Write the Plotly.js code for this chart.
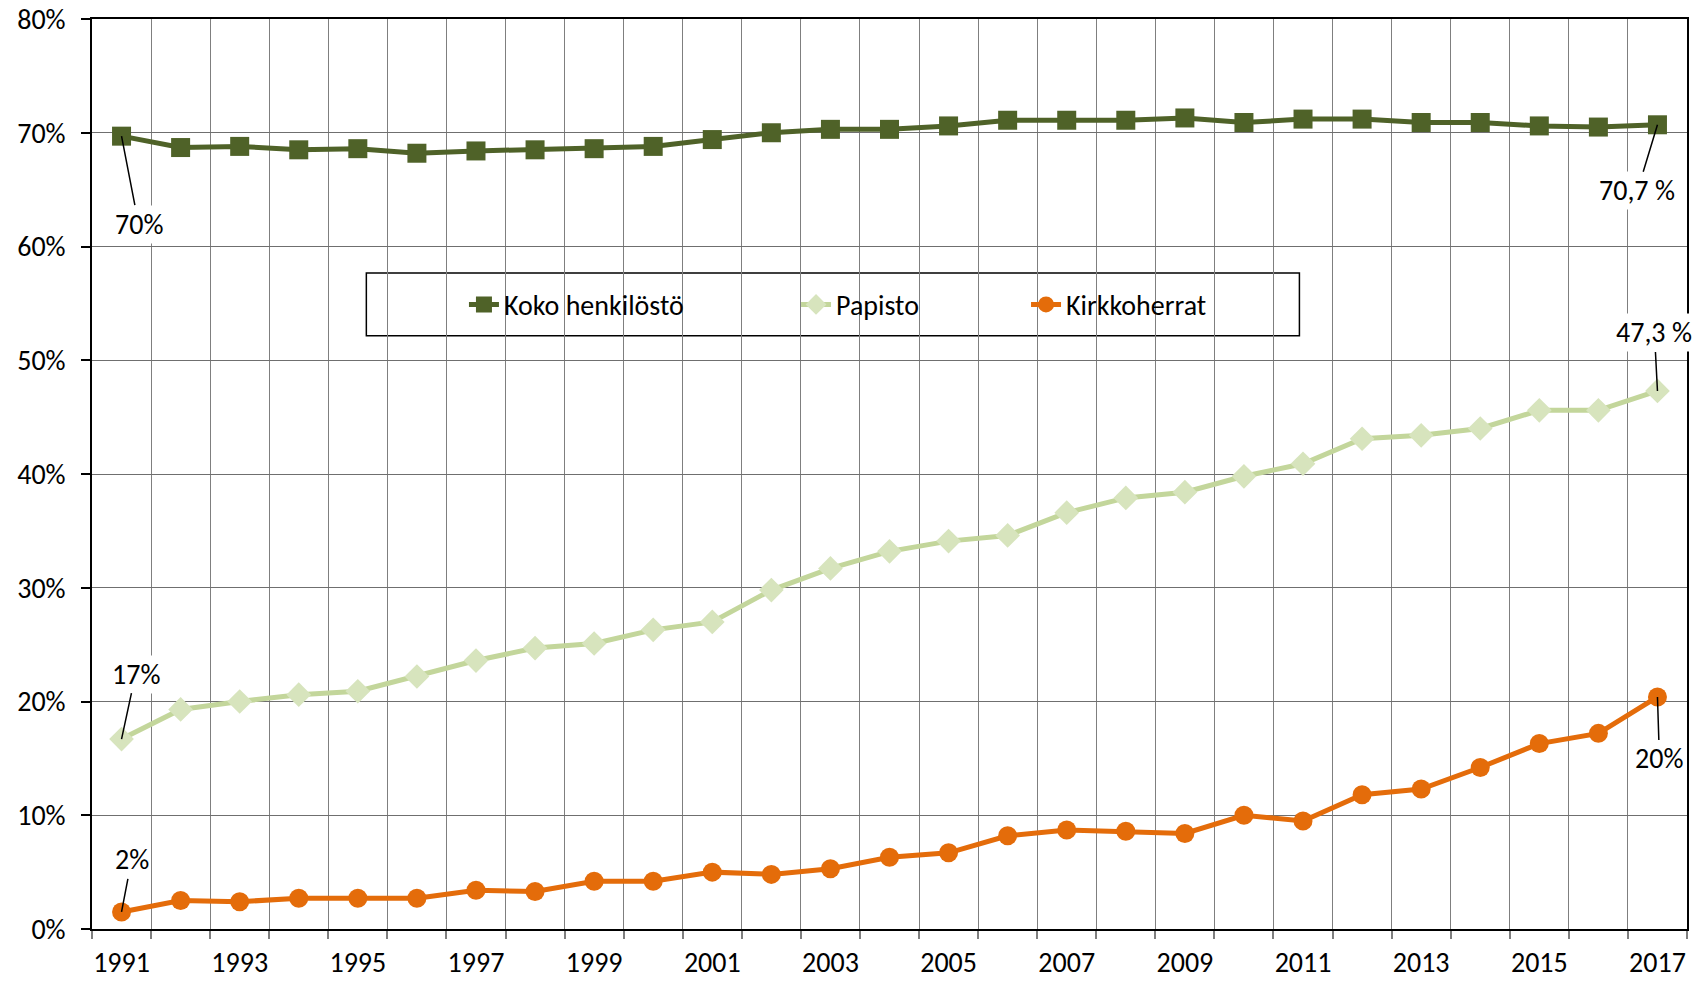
<!DOCTYPE html>
<html>
<head>
<meta charset="utf-8">
<script src="https://cdn.plot.ly/plotly-3.0.1.min.js"></script>
<style>
  html, body { margin: 0; padding: 0; background: #fff; }
  #chart { width: 1704px; height: 981px; }
</style>
</head>
<body>
<div id="chart"></div>
<script>
// --- Data ---
const years = [1991, 1992, 1993, 1994, 1995, 1996, 1997, 1998, 1999, 2000, 2001, 2002, 2003, 2004,
               2005, 2006, 2007, 2008, 2009, 2010, 2011, 2012, 2013, 2014, 2015, 2016, 2017];
const koko = [69.7, 68.7, 68.8, 68.5, 68.6, 68.2, 68.4, 68.5, 68.6, 68.8, 69.4, 70.0, 70.3, 70.3,
              70.6, 71.1, 71.1, 71.1, 71.3, 70.9, 71.2, 71.2, 70.9, 70.9, 70.6, 70.5, 70.7];
const papisto = [16.7, 19.3, 20.0, 20.6, 20.9, 22.2, 23.6, 24.7, 25.1, 26.3, 27.0, 29.8, 31.7, 33.2,
                 34.1, 34.6, 36.6, 37.9, 38.4, 39.8, 40.9, 43.1, 43.4, 44.0, 45.6, 45.6, 47.3];
const kirkkoherrat = [1.5, 2.5, 2.4, 2.7, 2.7, 2.7, 3.4, 3.3, 4.2, 4.2, 5.0, 4.8, 5.3, 6.3,
                      6.7, 8.2, 8.7, 8.6, 8.4, 10.0, 9.5, 11.8, 12.3, 14.2, 16.3, 17.2, 20.4];
const seriesNames = ['Koko henkilöstö', 'Papisto', 'Kirkkoherrat'];
const labelYears = years.filter(y => y % 2 === 1);

// end-point labels: [series, index, text, ax, ay]
const pointLabels = [
    [koko, 0, '70%', 17, 88],
    [koko, 26, '70,7 %', -20, 66],
    [papisto, 0, '17%', 14, -65],
    [papisto, 26, '47,3 %', -3, -58],
    [kirkkoherrat, 0, '2%', 10, -52],
    [kirkkoherrat, 26, '20%', 2, 62]
];

const FONT = 'Carlito, Calibri, Lato, sans-serif';
const FS = 28;

const traces = [
    { x: years, y: koko, name: seriesNames[0], type: 'scatter', mode: 'lines+markers', legend: 'legend',
      line: { color: '#4F6228', width: 5 },
      marker: { symbol: 'square', size: 19, color: '#4F6228' } },
    { x: years, y: papisto, name: seriesNames[1], type: 'scatter', mode: 'lines+markers', legend: 'legend2',
      line: { color: '#C3D69B', width: 5 },
      marker: { symbol: 'diamond', size: 19, color: '#D7E4BD' } },
    { x: years, y: kirkkoherrat, name: seriesNames[2], type: 'scatter', mode: 'lines+markers', legend: 'legend3',
      line: { color: '#E46C0A', width: 5 },
      marker: { symbol: 'circle', size: 19, color: '#E46C0A' } }
];

// one legend per series so the entries sit where Excel put them
const legendBase = {
    orientation: 'h', xanchor: 'left', y: 0.686, yanchor: 'middle',
    bgcolor: 'rgba(0,0,0,0)', borderwidth: 0,
    font: { family: FONT, size: FS, color: '#000' }
};

const layout = {
    width: 1704, height: 981,
    margin: { l: 92, r: 17, t: 19, b: 52 },
    paper_bgcolor: '#fff', plot_bgcolor: '#fff',
    font: { family: FONT, size: FS, color: '#000' },
    showlegend: true,
    legend: { ...legendBase, x: 0.2332 },
    legend2: { ...legendBase, x: 0.4414 },
    legend3: { ...legendBase, x: 0.5856 },
    xaxis: {
        range: [years[0] - 0.5, years[years.length - 1] + 0.5],
        tickmode: 'array', tickvals: labelYears, ticktext: labelYears.map(String),
        showgrid: false, ticks: '', zeroline: false,
        showline: true, linecolor: '#000', linewidth: 1.5, mirror: true,
        tickfont: { family: FONT, size: FS }, ticklabelstandoff: 8,
        minor: {
            tickmode: 'array',
            tickvals: years.map(y => y - 0.5).concat([years[years.length - 1] + 0.5]),
            showgrid: true, gridcolor: '#7f7f7f', gridwidth: 1,
            ticks: 'outside', ticklen: 8, tickcolor: '#7f7f7f', tickwidth: 1.5
        }
    },
    yaxis: {
        range: [0, 80], tickmode: 'linear', tick0: 0, dtick: 10, ticksuffix: '%',
        showgrid: true, gridcolor: '#6f6f6f', gridwidth: 1, zeroline: false,
        ticks: 'outside', ticklen: 9, tickcolor: '#000', tickwidth: 1.5,
        showline: true, linecolor: '#000', linewidth: 1.5, mirror: true,
        tickfont: { family: FONT, size: FS }, ticklabelstandoff: 10
    },
    shapes: [{
        type: 'rect', xref: 'paper', yref: 'paper',
        x0: 0.172, x1: 0.757, y0: 0.652, y1: 0.721,
        line: { color: '#000', width: 1.5 }, fillcolor: '#fff', layer: 'below'
    }],
    annotations: pointLabels.map(([s, i, t, ax, ay]) => ({
        x: years[i], y: s[i], text: t, showarrow: true, arrowhead: 0, arrowwidth: 1.5,
        arrowcolor: '#000', ax: ax, ay: ay, standoff: 0, startstandoff: 0,
        bgcolor: '#fff', font: { family: FONT, size: FS, color: '#000' }
    }))
};

Plotly.newPlot('chart', traces, layout, { displayModeBar: false, responsive: false });
</script>
</body>
</html>
